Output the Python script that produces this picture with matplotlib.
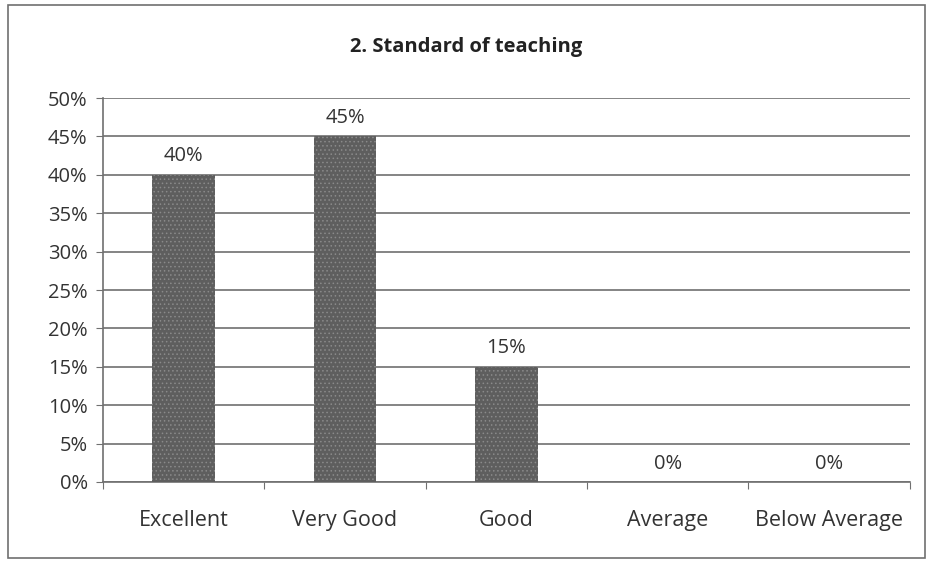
import numpy as np
import matplotlib.pyplot as plt
from matplotlib.patches import Rectangle

# Survey results
categories = ['Excellent', 'Very Good', 'Good', 'Average', 'Below Average']
percent = [40, 45, 15, 0, 0]
yticks = [0, 5, 10, 15, 20, 25, 30, 35, 40, 45, 50]

plt.rcParams['font.family'] = ['Open Sans', 'DejaVu Sans']
plt.rcParams['hatch.color'] = '#8a8a8a'
plt.rcParams['hatch.linewidth'] = 0.6

fig = plt.figure(figsize=(9.33, 5.64), dpi=100)
ax = fig.add_axes([0.1104, 0.1454, 0.8646, 0.6808])

# outer chart border
fig.patches.append(Rectangle((0.009, 0.011), 0.982, 0.98, transform=fig.transFigure,
                             fill=False, edgecolor='#707070', linewidth=1.2))

x = np.arange(len(categories))
bars = ax.bar(x, percent, width=0.39, color='#5e5e5e', hatch='....',
              edgecolor='#8a8a8a', linewidth=0, zorder=3)

for xi, v in zip(x, percent):
    ax.text(xi, v + 1.1, f'{v}%', ha='center', va='bottom', fontsize=14.5, color='#333333')

ax.set_xlim(-0.5, len(categories) - 0.5)
ax.set_ylim(0, 50)
ax.set_yticks(yticks)
ax.set_yticklabels([f'{t}%' for t in yticks], fontsize=14.5, color='#333333')
ax.yaxis.grid(True, color='#707070', linewidth=1.2, zorder=0)

# category labels centered, ticks on category boundaries
ax.set_xticks(np.arange(-0.5, len(categories), 1.0))
ax.set_xticklabels([])
ax.set_xticks(x, minor=True)
ax.set_xticklabels(categories, minor=True, fontsize=15.5, color='#333333')
ax.tick_params(axis='x', which='minor', length=0, pad=20)
ax.tick_params(axis='x', which='major', length=5, color='#707070', direction='out')
ax.tick_params(axis='y', length=5, color='#707070', direction='out', pad=6)

for s in ['top', 'right']:
    ax.spines[s].set_visible(False)
ax.spines['left'].set_color('#707070')
ax.spines['bottom'].set_color('#707070')
ax.spines['left'].set_linewidth(1.2)
ax.spines['bottom'].set_linewidth(1.2)

fig.text(0.5, 0.916, '2. Standard of teaching', ha='center', va='center',
         fontsize=14.5, fontweight='bold', color='#222222')

fig.savefig('out.png', dpi=100)
